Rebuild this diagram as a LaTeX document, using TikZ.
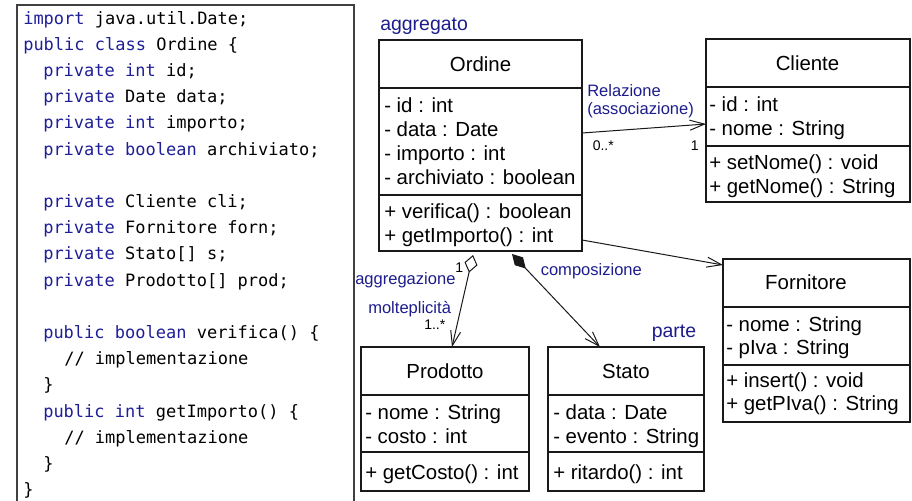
\documentclass[tikz,border=0pt]{standalone}
\usepackage{fontspec}
\setmainfont{Liberation Sans}
\newfontfamily\codefont{DejaVu Sans Mono}
\usetikzlibrary{arrows.meta,calc}
\definecolor{navy}{RGB}{28,28,140}
\definecolor{kwblue}{RGB}{30,30,150}
\newcommand\kw[1]{\textcolor{kwblue}{#1}}

\tikzset{
  umlbox/.style={draw=black!90, line width=0.8pt, inner sep=0pt, outer sep=0pt},
  divider/.style={draw=black!90, line width=0.8pt},
  umltext/.style={inner sep=0pt, anchor=base west, font=\fontsize{15.3}{18}\selectfont},
  umltitle/.style={inner sep=0pt, anchor=base, font=\fontsize{15.3}{18}\selectfont},
  code/.style={inner sep=0pt, anchor=base west, font=\codefont\fontsize{12.75}{15}\selectfont},
  lblsmall/.style={inner sep=0pt, anchor=base west, text=navy, font=\fontsize{12.4}{14}\selectfont},
  lblbig/.style={inner sep=0pt, anchor=base west, text=navy, font=\fontsize{14.6}{16}\selectfont},
  mult/.style={inner sep=0pt, anchor=base west, font=\fontsize{10.5}{12}\selectfont},
  link/.style={draw=black!90, line width=0.75pt, -{Straight Barb[length=11pt, width=7.5pt]}},
}

\begin{document}
\begin{tikzpicture}[x=0.75pt, y=-0.75pt]
\useasboundingbox (0,0) rectangle (912,500);

% ---------- Java source listing ----------
\draw[black!75, line width=1.1pt] (17,502) -- (17,5) -- (354,5) -- (354,502);

\node[code] (c1)  at (23,24)    {\kw{import} java.util.Date;};
\node[code] (c2)  at (23,50.2)  {\kw{public} \kw{class} Ordine \{};
\node[code] (c3)  at (43,76.4)  {\kw{private} \kw{int} id;};
\node[code] (c4)  at (43,102.6) {\kw{private} Date data;};
\node[code] (c5)  at (43,128.8) {\kw{private} \kw{int} importo;};
\node[code] (c6)  at (43,155)   {\kw{private} \kw{boolean} archiviato;};
\node[code] (c8)  at (43,207.4) {\kw{private} Cliente cli;};
\node[code] (c9)  at (43,233.6) {\kw{private} Fornitore forn;};
\node[code] (c10) at (43,259.8) {\kw{private} Stato[] s;};
\node[code] (c11) at (43,286)   {\kw{private} Prodotto[] prod;};
\node[code] (c13) at (43,338.4) {\kw{public} \kw{boolean} verifica() \{};
\node[code] (c14) at (64,364.6) {// implementazione};
\node[code] (c15) at (43,390.8) {\}};
\node[code] (c16) at (43,417)   {\kw{public} \kw{int} getImporto() \{};
\node[code] (c17) at (64,443.2) {// implementazione};
\node[code] (c18) at (43,469.4) {\}};
\node[code] (c19) at (23,495.6) {\}};

% ---------- class Ordine ----------
\node[umlbox, minimum width=152.25pt, minimum height=158.25pt] (ordine) at (480.5,145.5) {};
\draw[divider] (379,88) -- (582,88);
\draw[divider] (379,195) -- (582,195);
\node[umltitle] (ordT) at (480.5,71) {Ordine};
\node[umltext] (ordA1) at (384,112) {- id : int};
\node[umltext] (ordA2) at (384,136) {- data : Date};
\node[umltext] (ordA3) at (384,160) {- importo : int};
\node[umltext] (ordA4) at (384,184) {- archiviato : boolean};
\node[umltext] (ordM1) at (384,218) {+ verifica() : boolean};
\node[umltext] (ordM2) at (384,242) {+ getImporto() : int};

% ---------- class Cliente ----------
\node[umlbox, minimum width=153pt, minimum height=122.25pt] (cliente) at (808,120.5) {};
\draw[divider] (706,87) -- (910,87);
\draw[divider] (706,146) -- (910,146);
\node[umltitle] (cliT) at (807.5,70) {Cliente};
\node[umltext] (cliA1) at (709,111) {- id : int};
\node[umltext] (cliA2) at (709,135) {- nome : String};
\node[umltext] (cliM1) at (709,169) {+ setNome() : void};
\node[umltext] (cliM2) at (709,193) {+ getNome() : String};

% ---------- class Fornitore ----------
\node[umlbox, minimum width=140.25pt, minimum height=122.25pt] (fornitore) at (816.5,340.5) {};
\draw[divider] (723,307) -- (910,307);
\draw[divider] (723,365) -- (910,365);
\node[umltitle] (forT) at (806,289) {Fornitore};
\node[umltext] (forA1) at (726,331) {- nome : String};
\node[umltext] (forA2) at (726,354) {- pIva : String};
\node[umltext] (forM1) at (726,387.5) {+ insert() : void};
\node[umltext] (forM2) at (726,410) {+ getPIva() : String};

% ---------- class Prodotto ----------
\node[umlbox, minimum width=126pt, minimum height=108pt] (prodotto) at (445,419) {};
\draw[divider] (361,395) -- (529,395);
\draw[divider] (361,452) -- (529,452);
\node[umltitle] (proT) at (445,378) {Prodotto};
\node[umltext] (proA1) at (365,419.5) {- nome : String};
\node[umltext] (proA2) at (365,443) {- costo : int};
\node[umltext] (proM1) at (365,479) {+ getCosto() : int};

% ---------- class Stato ----------
\node[umlbox, minimum width=117pt, minimum height=108pt] (stato) at (626,419) {};
\draw[divider] (548,395) -- (704,395);
\draw[divider] (548,452) -- (704,452);
\node[umltitle] (staT) at (626,378) {Stato};
\node[umltext] (staA1) at (553,419.5) {- data : Date};
\node[umltext] (staA2) at (553,443) {- evento : String};
\node[umltext] (staM1) at (553,479) {+ ritardo() : int};

% ---------- relations ----------
\draw[link] ($(ordine.east)+(0,-12.5)$) -- ($(cliente.west)+(0,3.5)$);
\draw[link] ($(ordine.east)+(0,94.5)$) -- ($(fornitore.west)+(0,-75.5)$);
\draw[link, {Diamond[open, length=13.5pt, width=10pt, line width=0.75pt]}-{Straight Barb[length=11pt, width=7.5pt]}]
  ($(ordine.south)+(-7.5,4)$) -- ($(prodotto.north)+(7,0)$);
\draw[link, {Diamond[length=15pt, width=8.5pt]}-{Straight Barb[length=11pt, width=7.5pt]}]
  ($(ordine.south)+(31.5,3)$) -- ($(stato.north)+(-26,0)$);

% ---------- labels ----------
\node[lblbig]   (lAggregato) at (380,30)    {aggregato};
\node[lblsmall] (lRel)       at (587,96)    {Relazione};
\node[lblsmall] (lAssoc)     at (587,114.5) {(associazione)};
\node[mult]     (m1)         at (592.5,150) {0..*};
\node[mult]     (m2)         at (690.5,150) {1};
\node[mult]     (m3)         at (455,272)   {1};
\node[lblsmall] (lAggr)      at (355,284)   {aggregazione};
\node[lblsmall] (lMolt)      at (368,313)   {molteplicità};
\node[mult]     (m4)         at (424,329.5) {1..*};
\node[lblsmall] (lComp)      at (540.5,275.5) {composizione};
\node[lblbig]   (lParte)     at (651.5,337) {parte};
\end{tikzpicture}
\end{document}
